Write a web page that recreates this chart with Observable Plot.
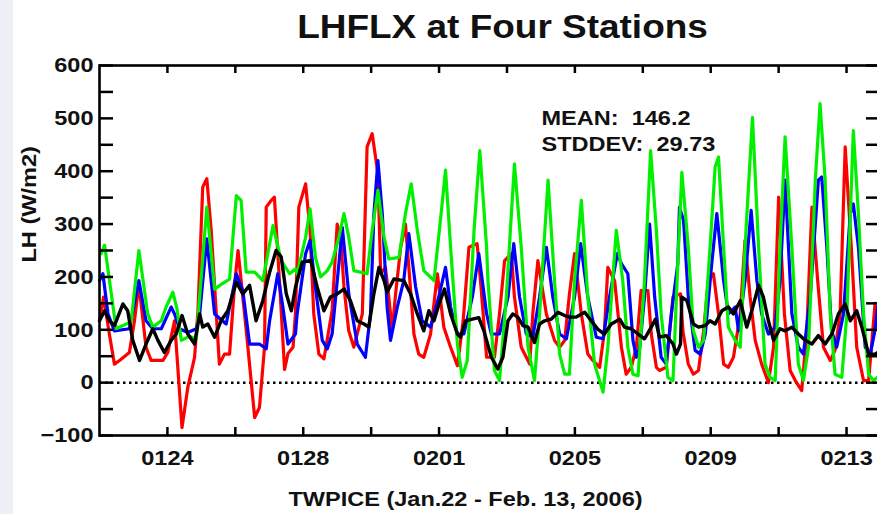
<!DOCTYPE html>
<html>
<head>
<meta charset="utf-8">
<script src="https://cdn.jsdelivr.net/npm/d3@7"></script>
<script src="https://cdn.jsdelivr.net/npm/@observablehq/plot@0.6"></script>
<style>
  html, body { margin: 0; padding: 0; background: #fff; overflow: hidden; }
  #wrap { position: relative; width: 877px; height: 514px; }
  #edge { position: absolute; left: 0; top: 0; width: 13px; height: 514px; background: #eef0f8; }
  #chart { position: absolute; left: 0; top: 0; }
</style>
</head>
<body>
<div id="wrap"><div id="edge"></div><div id="chart"></div></div>
<script>
// Latent heat flux (W/m2) at four TWP-ICE stations, Jan 22 - Feb 13, 2006.
// Times are in days after 2006-01-22 00:00 UTC.

const redDay = [0.00,0.12,0.29,0.44,0.59,0.88,1.03,1.16,1.37,1.52,1.87,2.01,2.21,2.43,2.60,2.80,2.90,3.04,3.16,3.29,3.44,3.53,3.68,3.83,3.98,4.08,4.32,4.57,4.71,4.86,4.91,5.06,5.15,5.30,5.45,5.55,5.70,5.77,5.87,6.07,6.20,6.31,6.46,6.61,6.85,7.00,7.10,7.20,7.34,7.49,7.74,7.88,8.03,8.20,8.28,8.42,8.52,8.62,8.72,8.87,9.01,9.11,9.26,9.40,9.55,9.75,9.95,10.14,10.34,10.54,10.71,10.88,11.12,11.22,11.40,11.63,11.78,11.93,12.13,12.22,12.42,12.57,12.67,12.76,12.91,13.16,13.40,13.55,13.70,13.84,13.99,14.19,14.38,14.53,14.73,14.87,14.97,15.17,15.37,15.51,15.66,15.81,15.95,16.15,16.25,16.40,16.49,16.69,16.89,17.11,17.18,17.34,17.49,17.64,17.79,17.93,18.08,18.23,18.38,18.52,18.67,18.87,19.01,19.16,19.31,19.50,19.70,19.85,20.00,20.17,20.34,20.49,20.68,20.83,20.98,21.15,21.32,21.52,21.66,21.81,21.96,22.14,22.30,22.50,22.65,22.84,22.92];
const redLH  = [117,162,92,35,42,57,117,187,67,42,42,57,117,-85,-9,48,136,370,386,288,130,35,54,54,187,250,100,-66,-47,67,332,345,351,193,25,55,67,130,332,376,288,130,54,45,136,300,276,181,98,67,130,446,471,395,206,218,162,98,168,256,300,218,92,54,48,92,206,105,67,32,117,256,263,193,48,48,130,231,244,162,67,48,35,130,231,130,80,67,80,168,244,130,54,42,29,98,218,193,67,16,29,67,174,174,92,29,23,29,162,168,98,35,16,23,98,193,206,130,35,29,48,130,269,162,80,35,0,67,351,130,23,4,-15,98,332,193,67,42,61,130,446,256,67,4,4,150];

const blueDay = [0.00,0.10,0.25,0.44,0.88,1.16,1.37,1.57,1.82,2.11,2.21,2.36,2.60,2.85,2.95,3.16,3.39,3.73,4.03,4.22,4.42,4.71,4.91,5.01,5.25,5.40,5.55,5.77,5.82,6.07,6.20,6.36,6.56,6.71,6.85,7.05,7.15,7.34,7.59,7.83,7.98,8.08,8.20,8.33,8.47,8.57,8.77,8.96,9.11,9.31,9.50,9.75,9.99,10.19,10.34,10.54,10.73,10.98,11.17,11.40,11.54,11.78,12.03,12.20,12.37,12.57,12.76,12.96,13.16,13.35,13.55,13.75,13.99,14.17,14.38,14.63,14.83,15.02,15.25,15.37,15.56,15.71,15.81,15.91,16.05,16.20,16.35,16.54,16.69,16.84,17.03,17.08,17.20,17.34,17.54,17.69,17.84,18.03,18.18,18.38,18.52,18.72,18.82,19.01,19.19,19.36,19.50,19.70,19.90,20.04,20.19,20.39,20.58,20.73,20.93,21.17,21.27,21.42,21.56,21.71,21.91,22.11,22.20,22.35,22.55,22.70,22.84,22.92];
const blueLH  = [193,206,130,98,102,193,117,102,102,143,130,102,95,102,130,272,130,111,206,174,73,73,64,117,206,143,73,92,130,244,269,180,80,64,92,225,294,168,73,48,130,318,420,318,143,80,143,193,282,181,117,105,162,218,143,92,92,162,244,130,92,92,162,263,162,92,86,162,256,162,92,83,162,263,162,86,83,162,244,225,206,80,48,67,162,300,162,48,35,130,225,332,307,162,61,54,92,225,320,193,130,143,98,193,326,193,130,92,105,193,383,130,67,54,162,383,389,256,98,67,130,320,338,256,67,54,100,145];

const greenDay = [0.05,0.15,0.49,0.69,0.93,1.16,1.42,1.57,1.82,1.96,2.16,2.28,2.41,2.65,2.85,3.16,3.39,3.63,3.83,4.03,4.17,4.32,4.57,4.81,5.11,5.35,5.60,5.77,5.82,6.07,6.20,6.36,6.51,6.71,6.85,7.05,7.20,7.34,7.49,7.88,8.03,8.20,8.38,8.52,8.82,9.01,9.18,9.36,9.55,9.85,10.04,10.19,10.34,10.54,10.68,10.83,11.03,11.20,11.40,11.44,11.63,11.78,11.98,12.22,12.42,12.62,12.81,12.96,13.21,13.40,13.55,13.70,13.84,13.99,14.19,14.38,14.58,14.83,14.97,15.22,15.41,15.56,15.71,15.86,16.05,16.23,16.40,16.54,16.74,16.89,17.03,17.15,17.34,17.49,17.64,17.79,17.98,18.13,18.23,18.38,18.52,18.72,18.87,19.01,19.23,19.41,19.60,19.75,19.90,20.04,20.19,20.39,20.58,20.73,20.88,21.08,21.22,21.37,21.52,21.66,21.86,22.01,22.20,22.35,22.50,22.65,22.79,22.91];
const greenLH  = [244,260,102,108,115,250,130,105,117,143,171,140,80,88,82,332,177,188,196,354,345,209,209,193,297,231,206,215,206,275,329,237,200,212,228,275,320,275,212,206,288,364,275,234,237,320,376,288,212,193,307,402,256,73,10,42,288,439,256,193,23,4,162,414,256,67,4,130,383,193,54,16,16,193,345,162,35,-18,67,288,193,67,16,13,193,439,288,130,10,4,224,398,256,98,67,80,256,408,427,256,105,80,67,256,502,256,35,10,4,256,465,256,35,4,67,383,528,383,130,16,10,130,477,319,130,16,4,10];

const blackDay = [0.00,0.15,0.29,0.44,0.69,0.83,0.98,1.18,1.37,1.57,1.72,1.91,2.11,2.26,2.43,2.60,2.80,2.95,3.04,3.19,3.39,3.58,3.78,4.03,4.22,4.42,4.61,4.81,5.01,5.20,5.35,5.50,5.65,5.77,5.97,6.22,6.41,6.61,6.80,7.00,7.20,7.39,7.59,7.79,7.93,8.08,8.23,8.38,8.47,8.67,8.96,9.16,9.36,9.55,9.70,9.85,10.00,10.16,10.34,10.54,10.63,10.78,10.98,11.17,11.32,11.54,11.73,11.88,12.03,12.17,12.32,12.47,12.62,12.81,12.96,13.11,13.30,13.50,13.70,13.84,14.04,14.29,14.48,14.68,14.87,15.07,15.32,15.46,15.66,15.86,16.05,16.25,16.37,16.49,16.69,16.89,16.99,17.11,17.15,17.30,17.49,17.64,17.84,17.98,18.13,18.33,18.52,18.67,18.87,19.06,19.21,19.41,19.55,19.70,19.85,20.04,20.19,20.39,20.58,20.78,20.98,21.17,21.37,21.57,21.76,21.96,22.11,22.30,22.45,22.65,22.84,22.92];
const blackLH  = [117,136,117,108,149,136,80,42,73,102,80,57,80,92,127,92,73,130,105,111,86,117,136,190,168,184,117,155,209,250,238,168,136,180,228,231,181,136,162,168,177,155,117,111,105,168,218,193,171,196,193,168,130,98,136,117,149,177,130,92,86,117,120,123,98,48,26,48,117,130,124,108,105,76,111,117,120,133,127,124,124,133,117,101,92,111,120,105,102,92,83,105,120,86,89,73,54,73,162,155,111,105,108,117,111,136,143,130,155,105,136,184,162,117,80,102,98,105,92,80,73,89,73,92,130,149,117,136,105,54,54,57];

// Axis tick values and labels
const yMinorTicks = d3.range(-100, 601, 50);
const yLabelTicks = [-100, 0, 100, 200, 300, 400, 500, 600];
const xTickDays = [2, 4, 6, 8, 10, 12, 14, 16, 18, 20, 22];
const xLabelDays = [2, 6, 10, 14, 18, 22];

const titleText = "LHFLX at Four Stations";
const xTitle = "TWPICE (Jan.22 - Feb. 13, 2006)";
const yTitle = "LH (W/m2)";
const meanText = "MEAN:\u00a0\u00a0146.2";
const stdText = "STDDEV:\u00a0\u00a029.73";

const start = Date.UTC(2006, 0, 22);
const toDate = d => new Date(start + d * 864e5);
const rows = (days, vals) => days.map((d, i) => ({date: toDate(d), lh: vals[i]}));

const W = 877, H = 514;
const mL = 99, mR = -3, mT = 65, mB = 79;
const frameW = W - mL - mR, frameH = H - mT - mB;
const font = "'Liberation Sans', Arial, Helvetica, sans-serif";
const ink = "#111";

const chart = Plot.plot({
  width: W,
  height: H,
  marginLeft: mL,
  marginRight: mR,
  marginTop: mT,
  marginBottom: mB,
  style: {fontFamily: font, background: "transparent", overflow: "visible"},
  x: {type: "utc", domain: [toDate(0), toDate(23)]},
  y: {domain: [-100, 600]},
  marks: [
    Plot.ruleY([0], {stroke: "#000", strokeWidth: 2.5, strokeDasharray: "2.5,3.5"}),
    Plot.line(rows(redDay, redLH), {x: "date", y: "lh", stroke: "#ff0000", strokeWidth: 3.2}),
    Plot.line(rows(blueDay, blueLH), {x: "date", y: "lh", stroke: "#0000ff", strokeWidth: 3.2}),
    Plot.line(rows(greenDay, greenLH), {x: "date", y: "lh", stroke: "#00f000", strokeWidth: 3.2}),
    Plot.line(rows(blackDay, blackLH), {x: "date", y: "lh", stroke: "#000", strokeWidth: 3.4}),
    Plot.frame({stroke: "#000", strokeWidth: 2.6}),
    // inward ticks on all four sides
    Plot.tickY(yMinorTicks, {y: d => d, insetRight: frameW - 14, strokeWidth: 2.5}),
    Plot.tickY(yMinorTicks, {y: d => d, insetLeft: frameW - 14, strokeWidth: 2.5}),
    Plot.tickX(xTickDays, {x: d => toDate(d), insetTop: frameH - 8, strokeWidth: 2.5}),
    Plot.tickX(xTickDays, {x: d => toDate(d), insetBottom: frameH - 8, strokeWidth: 2.5}),
    Plot.axisY({anchor: "left", ticks: yLabelTicks, tickSize: 0, tickPadding: 6, label: null,
      fontSize: 21, fontWeight: "bold", fill: ink}),
    Plot.axisX({anchor: "bottom", ticks: xLabelDays.map(toDate), tickSize: 0, tickPadding: 15,
      tickFormat: d3.utcFormat("%m%d"), label: null, fontSize: 21, fontWeight: "bold", fill: ink}),
    Plot.text([titleText], {frameAnchor: "top", lineAnchor: "bottom", dx: 12.5, dy: -28,
      fontSize: 33, fontWeight: "bold", fill: ink}),
    Plot.text([xTitle], {frameAnchor: "bottom", lineAnchor: "bottom", dx: -24.5, dy: 70,
      fontSize: 21, fontWeight: "bold", fill: ink}),
    Plot.text([yTitle], {frameAnchor: "left", rotate: -90, dx: -70, dy: 12,
      fontSize: 21, fontWeight: "bold", fill: ink}),
    Plot.text([meanText], {frameAnchor: "top-left", textAnchor: "start", dx: 442, dy: 45,
      fontSize: 21, fontWeight: "bold", fill: ink}),
    Plot.text([stdText], {frameAnchor: "top-left", textAnchor: "start", dx: 442, dy: 71,
      fontSize: 21, fontWeight: "bold", fill: ink})
  ]
});

document.getElementById("chart").appendChild(chart);

// The lettering of this chart is a wide bold face; widen each label along its baseline.
chart.querySelectorAll("text").forEach(t => {
  if (!t.textContent.trim()) return;
  const len = t.getComputedTextLength();
  t.setAttribute("textLength", (len * 1.12).toFixed(1));
  t.setAttribute("lengthAdjust", "spacingAndGlyphs");
});
</script>
</body>
</html>
